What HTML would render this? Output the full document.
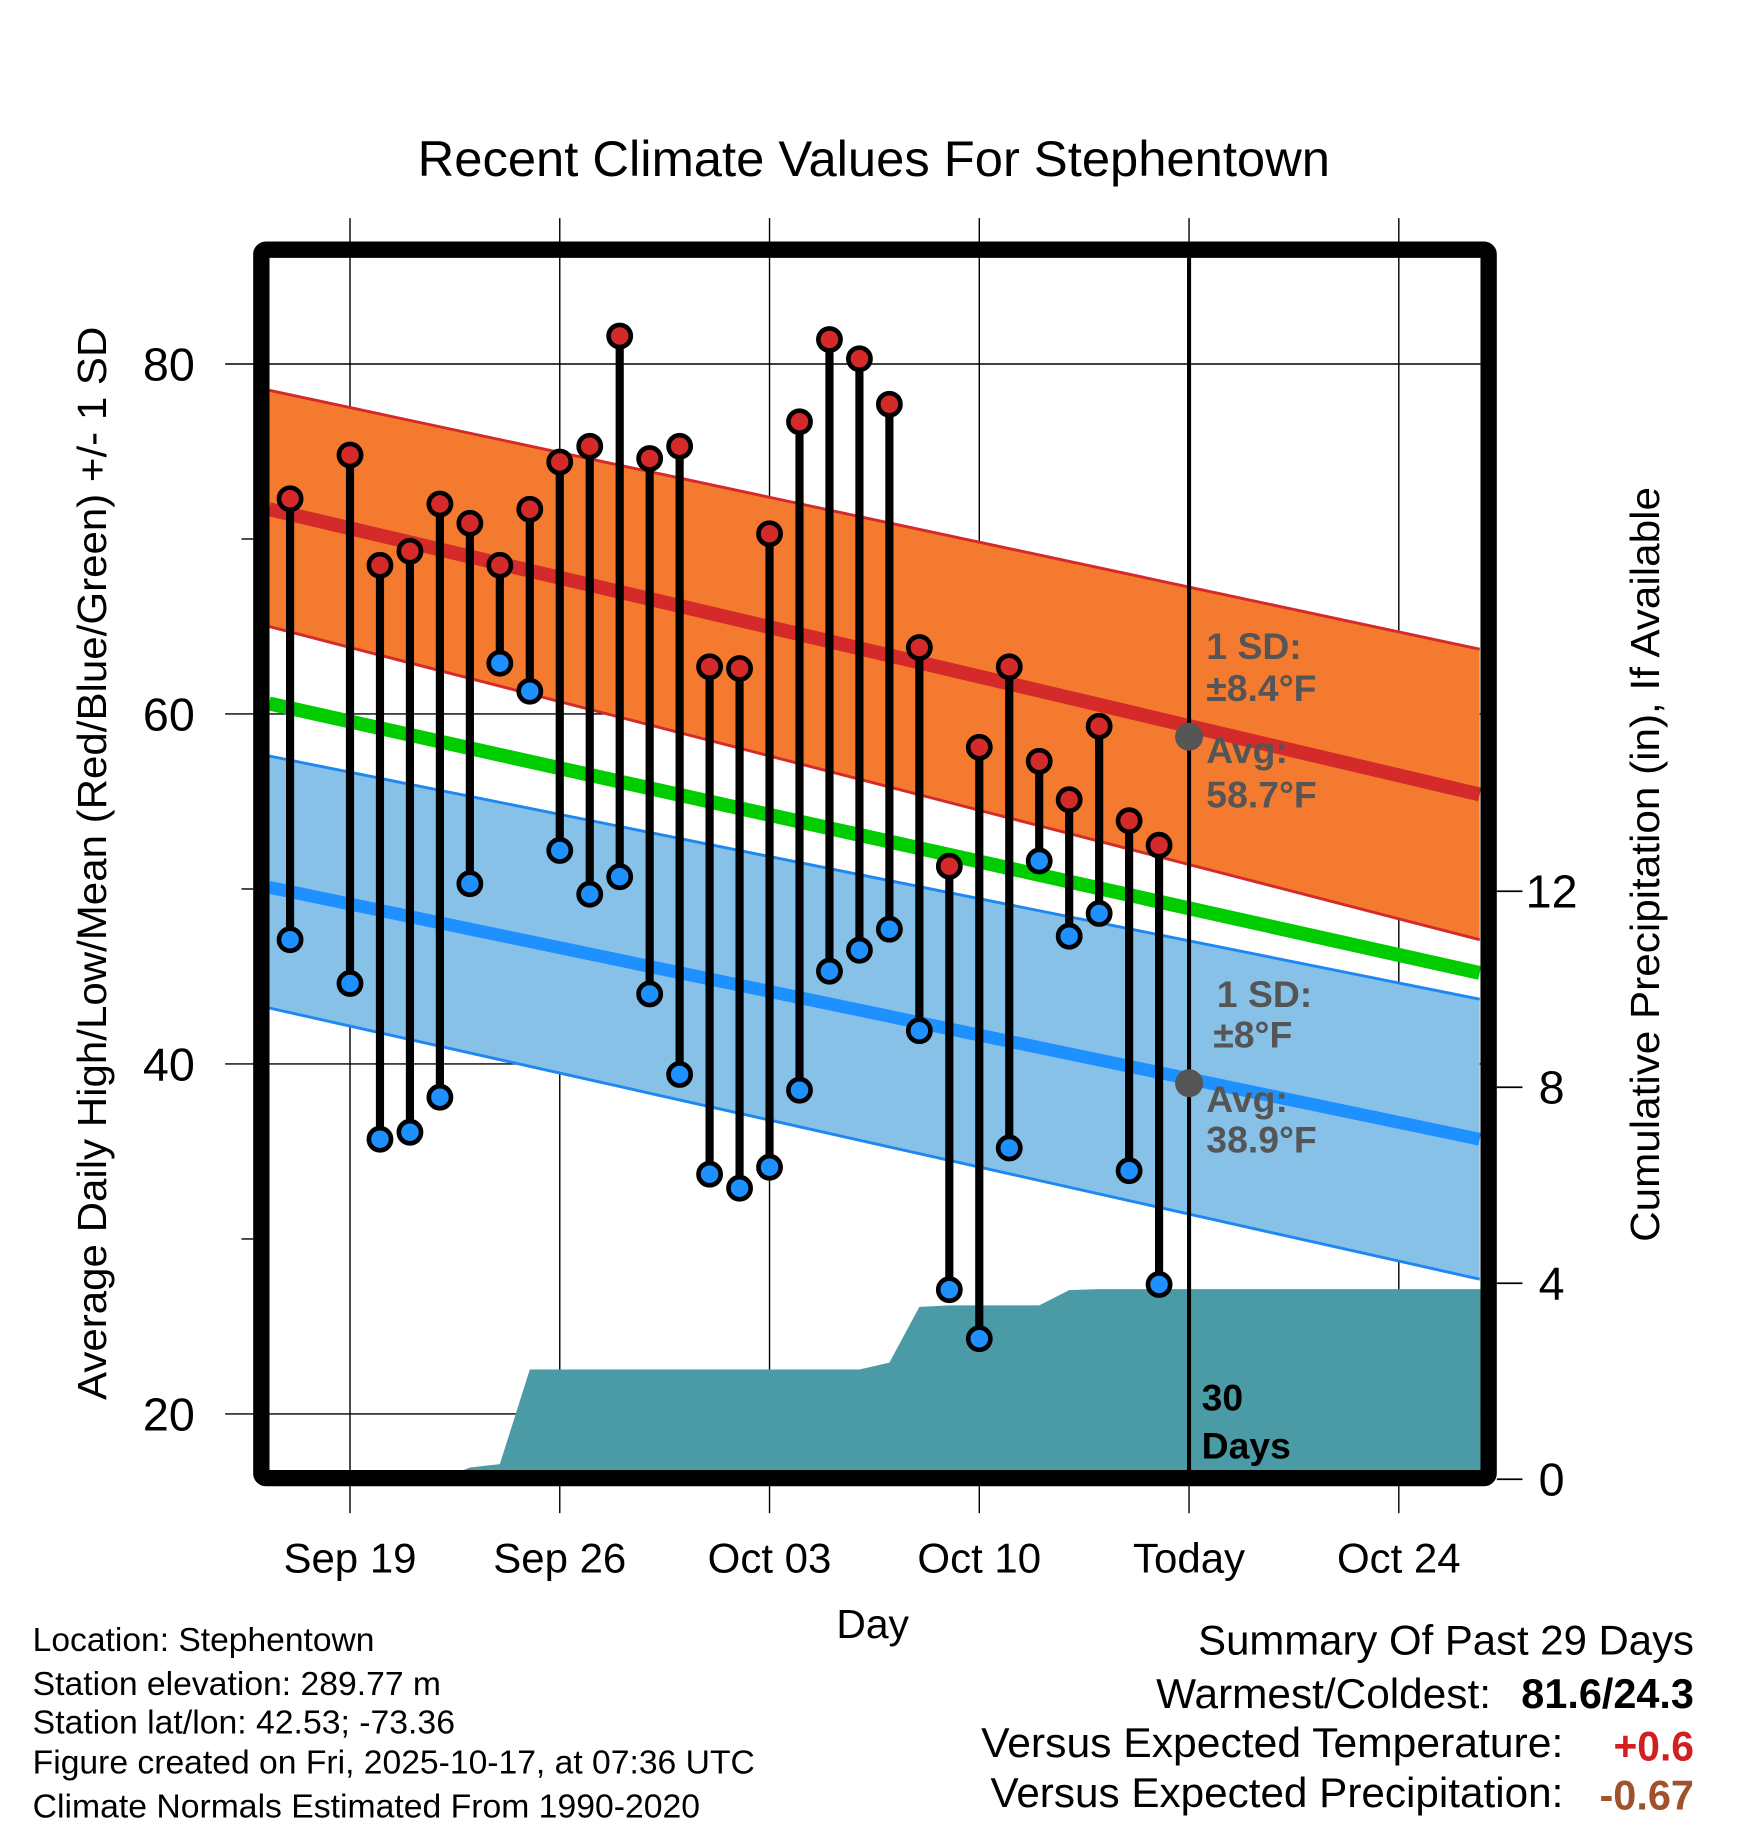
<!DOCTYPE html>
<html><head><meta charset="utf-8"><style>
html,body{margin:0;padding:0;background:#fff}
svg{display:block;font-family:"Liberation Sans",Arial,sans-serif}
</style></head><body>
<svg id="chart" width="1748" height="1828" viewBox="0 0 1498.3 1566.9" xmlns="http://www.w3.org/2000/svg">
<defs><clipPath id="pc"><rect x="231" y="221" width="1038" height="1039"/></clipPath></defs>
<text x="749" y="151" font-size="43" text-anchor="middle" textLength="782" lengthAdjust="spacingAndGlyphs">Recent Climate Values For Stephentown</text>
<g id="grid"></g>
<g id="plot" clip-path="url(#pc)"></g>
<g id="marks"></g>
<rect x="224" y="214" width="1052" height="1053" fill="none" stroke="#000" stroke-width="14" rx="4"/>
<g id="axes"></g>
<text transform="translate(91,740) rotate(-90)" font-size="35" text-anchor="middle" textLength="920" lengthAdjust="spacingAndGlyphs">Average Daily High/Low/Mean (Red/Blue/Green) +/- 1 SD</text>
<text transform="translate(1422,741) rotate(-90)" font-size="35" text-anchor="middle" textLength="647" lengthAdjust="spacingAndGlyphs">Cumulative Precipitation (in), If Available</text>
<text x="748" y="1404" font-size="35" text-anchor="middle">Day</text>
<g font-size="28.5">
<text x="28" y="1415" textLength="293" lengthAdjust="spacingAndGlyphs">Location: Stephentown</text>
<text x="28" y="1453" textLength="350" lengthAdjust="spacingAndGlyphs">Station elevation: 289.77 m</text>
<text x="28" y="1486" textLength="362" lengthAdjust="spacingAndGlyphs">Station lat/lon: 42.53; -73.36</text>
<text x="28" y="1520" textLength="619" lengthAdjust="spacingAndGlyphs">Figure created on Fri, 2025-10-17, at 07:36 UTC</text>
<text x="28" y="1558" textLength="572" lengthAdjust="spacingAndGlyphs">Climate Normals Estimated From 1990-2020</text>
</g>
<g font-size="36">
<text x="1027" y="1418" textLength="425" lengthAdjust="spacingAndGlyphs">Summary Of Past 29 Days</text>
<text x="991" y="1464" textLength="287" lengthAdjust="spacingAndGlyphs">Warmest/Coldest:</text>
<text x="1304" y="1464" font-weight="bold" textLength="148" lengthAdjust="spacingAndGlyphs">81.6/24.3</text>
<text x="841" y="1506" textLength="499" lengthAdjust="spacingAndGlyphs">Versus Expected Temperature:</text>
<text x="1383" y="1509" font-weight="bold" fill="#d02020" textLength="69" lengthAdjust="spacingAndGlyphs">+0.6</text>
<text x="849" y="1549" textLength="491" lengthAdjust="spacingAndGlyphs">Versus Expected Precipitation:</text>
<text x="1371" y="1551" font-weight="bold" fill="#a0522d" textLength="81" lengthAdjust="spacingAndGlyphs">-0.67</text>
</g>
</svg>
<script>
// data (day offset from Sep 19)
const days = [-2,0,1,2,3,4,5,6,7,8,9,10,11,12,13,14,15,16,17,18,19,20,21,22,23,24,25,26,27];
const highs = [72.3,74.8,68.5,69.3,72.0,70.9,68.5,71.7,74.4,75.3,81.6,74.6,75.3,62.7,62.6,70.3,76.7,81.4,80.3,77.7,63.8,51.3,58.1,62.7,57.3,55.1,59.3,53.9,52.5];
const lows = [47.1,44.6,35.7,36.1,38.1,50.3,62.9,61.3,52.2,49.7,50.7,44.0,39.4,33.7,32.9,34.1,38.5,45.3,46.5,47.7,41.9,27.1,24.3,35.2,51.6,47.3,48.6,33.9,27.4];
const precipDays = [-3,3,4,5,6,17,18,19,20,23,24,25,26,27,40];
const precipCum = [0,0,0.24,0.31,2.24,2.24,2.38,3.52,3.55,3.55,3.86,3.88,3.88,3.88,3.88];
const normDays = [-2.7,37.7];
const normHigh = [71.7,55.4];
const normHighUp = [78.5,63.7];
const normHighDn = [65.0,47.1];
const normMean = [60.6,45.2];
const normLow = [50.1,35.7];
const normLowUp = [57.6,43.7];
const normLowDn = [43.2,27.7];
const xTickDays = [0,7,14,21,28,35];
const xTickLabels = ["Sep 19","Sep 26","Oct 03","Oct 10","Today","Oct 24"];
const yTicks = [20,40,60,80];
const yMinor = [30,50,70];
const y2Ticks = [0,4,8,12];

const X = d => 300 + d*(1199-300)/35;
const Y = v => 1212 - (v-20)*15;
const P = p => 1268 - p*42;
const NS = "http://www.w3.org/2000/svg";
function mk(parent, tag, attrs){const e=document.createElementNS(NS,tag);for(const k in attrs)e.setAttribute(k,attrs[k]);parent.appendChild(e);return e;}
const grid=document.getElementById('grid'), plot=document.getElementById('plot'), marks=document.getElementById('marks'), axes=document.getElementById('axes');

function band(up,dn,fill,stroke){
  const pts=[normDays.map((d,i)=>X(d)+','+Y(up[i])).join(' '), normDays.slice().reverse().map((d,j)=>{const i=normDays.length-1-j;return X(d)+','+Y(dn[i]);}).join(' ')].join(' ');
  const p=mk(plot,'polygon',{points:pts,fill:fill});
  
  
  [up,dn].forEach(a=>{const l=mk(plot,'polyline',{points:normDays.map((d,i)=>X(d)+','+Y(a[i])).join(' '),fill:'none',stroke:stroke,'stroke-width':2.5});
  
  });
}
function line(a,stroke,w,name){const l=mk(plot,'polyline',{points:normDays.map((d,i)=>X(d)+','+Y(a[i])).join(' '),fill:'none',stroke:stroke,'stroke-width':w});
  
  }
band(normHighUp,normHighDn,'#f47a30','#d42a2a');
band(normLowUp,normLowDn,'#87c1e8','#1e88f0');
line(normHigh,'#d42a2a',12,'normal-high-line');
line(normMean,'#00cc00',12,'normal-mean-line');
line(normLow,'#1e90ff',11,'normal-low-line');

let pp='231,1270 ';
precipDays.forEach((d,i)=>{pp+=X(d)+','+P(precipCum[i])+' ';});
pp+=X(precipDays[precipDays.length-1])+',1270';
const pa=mk(plot,'polygon',{points:pp,fill:'#4a9ba5'});



xTickDays.forEach(d=>{const l=mk(grid,'line',{x1:X(d),x2:X(d),y1:187,y2:1297,stroke:'#000','stroke-width':1.2});
  
  });
yTicks.forEach(v=>{const l=mk(grid,'line',{x1:193,x2:1269,y1:Y(v),y2:Y(v),stroke:'#000','stroke-width':1.2});
  
  });
const tl=mk(plot,'line',{x1:X(28),x2:X(28),y1:221,y2:1260,stroke:'#000','stroke-width':3.5});



days.forEach((d,i)=>{
  const s=mk(marks,'line',{x1:X(d),x2:X(d),y1:Y(highs[i]),y2:Y(lows[i]),stroke:'#000','stroke-width':7});
  
  
  const h=mk(marks,'circle',{cx:X(d),cy:Y(highs[i]),r:9.5,fill:'#d42a2a',stroke:'#000','stroke-width':4});
  
  
  const lo=mk(marks,'circle',{cx:X(d),cy:Y(lows[i]),r:9.5,fill:'#1e90ff',stroke:'#000','stroke-width':4});
  
  
});
[[58.7],[38.9]].forEach(v=>{const c=mk(marks,'circle',{cx:X(28),cy:Y(v[0]),r:12,fill:'#555'});
  
  });
const ann=[["1 SD:",1034,565,'#555'],["±8.4°F",1034,601,'#555'],["Avg:",1034,654,'#555'],["58.7°F",1034,692,'#555'],
["1 SD:",1043,863,'#555'],["±8°F",1040,898,'#555'],["Avg:",1034,953,'#555'],["38.9°F",1034,988,'#555'],
["30",1030,1209,'#000'],["Days",1030,1250,'#000']];
ann.forEach(a=>{const t=mk(marks,'text',{x:a[1],y:a[2],'font-size':32,'font-weight':'bold',fill:a[3]});t.textContent=a[0];
  
  });

xTickDays.forEach((d,i)=>{const t=mk(axes,'text',{x:X(d),y:1348,'font-size':36,'text-anchor':'middle'});t.textContent=xTickLabels[i];
  
  });
yTicks.forEach(v=>{const t=mk(axes,'text',{x:167,y:Y(v)+14,'font-size':40,'text-anchor':'end'});t.textContent=v;
  
  });
yMinor.forEach(v=>{const l=mk(axes,'line',{x1:207,x2:217,y1:Y(v),y2:Y(v),stroke:'#000','stroke-width':1.2});
  
  });
y2Ticks.forEach(v=>{const l=mk(axes,'line',{x1:1283,x2:1305,y1:P(v),y2:P(v),stroke:'#000','stroke-width':1.5});
  
  
  const t=mk(axes,'text',{x:1330,y:P(v)+14,'font-size':40,'text-anchor':'middle'});t.textContent=v;
  
  });
</script>
</body></html>
